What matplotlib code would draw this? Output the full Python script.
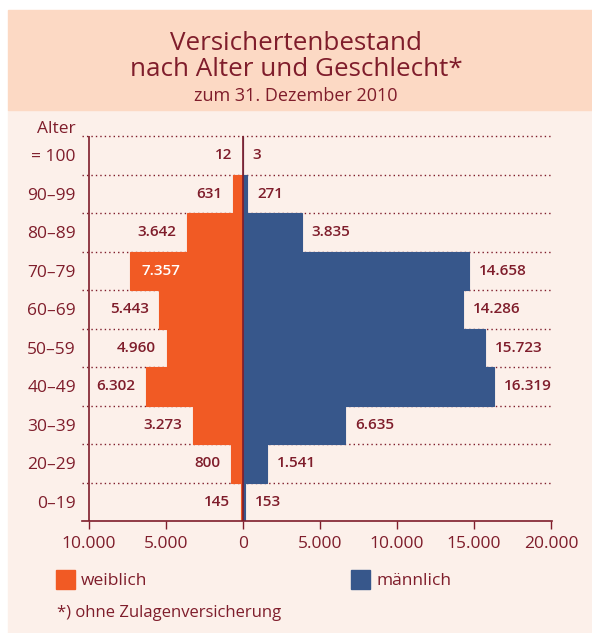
import matplotlib
matplotlib.use("Agg")
import matplotlib.pyplot as plt
from matplotlib.patches import Rectangle

plt.rcParams["font.family"] = ["Open Sans", "DejaVu Sans"]

# Data
age_groups = ["0–19", "20–29", "30–39", "40–49", "50–59",
              "60–69", "70–79", "80–89", "90–99", "= 100"]
female = [145, 800, 3273, 6302, 4960, 5443, 7357, 3642, 631, 12]
male = [153, 1541, 6635, 16319, 15723, 14286, 14658, 3835, 271, 3]
x_ticks = [-10000, -5000, 0, 5000, 10000, 15000, 20000]
x_tick_labels = ["10.000", "5.000", "0", "5.000", "10.000", "15.000", "20.000"]

title_lines = ["Versichertenbestand", "nach Alter und Geschlecht*"]
subtitle = "zum 31. Dezember 2010"
footnote = "*) ohne Zulagenversicherung"

# Colours
ORANGE = "#f15a24"
BLUE = "#37578b"
DARKRED = "#7f1d2b"
HEADER_BG = "#fcd9c4"
BODY_BG = "#fcf0ea"

W, H = 592, 633
fig = plt.figure(figsize=(W / 100, H / 100), dpi=100, facecolor="white")


def fx(px):
    return px / W


def fy(py):
    return 1 - py / H


# background panels
fig.patches.append(Rectangle((fx(8), fy(633)), fx(592 - 8), (633 - 110) / H,
                             transform=fig.transFigure, color=BODY_BG, zorder=-10))
fig.patches.append(Rectangle((fx(8), fy(110)), fx(592 - 8), 100 / H,
                             transform=fig.transFigure, color=HEADER_BG, zorder=-10))

# title
fig.text(0.5, fy(43), title_lines[0], ha="center", va="center", fontsize=18.7, color=DARKRED)
fig.text(0.5, fy(69), title_lines[1], ha="center", va="center", fontsize=18.7, color=DARKRED)
fig.text(0.5, fy(96), subtitle, ha="center", va="center", fontsize=13, color=DARKRED)

# axes: x from 82px to 552px, y from 136px to 521px
x_left, x_right = 82, 552
px_per_unit = (243 - 89) / 10000
xmin = -(243 - x_left) / px_per_unit
xmax = (x_right - 243) / px_per_unit
ax = fig.add_axes([fx(x_left), fy(521), fx(x_right - x_left), (521 - 136) / H])
ax.set_facecolor("none")
ax.set_xlim(xmin, xmax)
ax.set_ylim(-0.5, len(age_groups) - 0.5)

rows = list(range(len(age_groups)))

# dotted separators
for i in range(len(age_groups)):
    ax.plot([xmin, xmax], [i + 0.5, i + 0.5], color=DARKRED, lw=1.0,
            linestyle=(0, (1.0, 2.2)), zorder=1, clip_on=False)

ax.barh(rows, [-v for v in female], height=1.0, color=ORANGE,
        edgecolor=ORANGE, linewidth=0.8, zorder=2)
ax.barh(rows, male, height=1.0, color=BLUE,
        edgecolor=BLUE, linewidth=0.8, zorder=2)

ax.axvline(0, color=DARKRED, lw=1.2, zorder=3)
ax.axvline(-10000, color=DARKRED, lw=1.2, zorder=3)

# value labels
for i, v in enumerate(female):
    if v > 7000:
        ax.annotate(f"{v:,}".replace(",", "."), (-v, i), xytext=(8.5, 0),
                    textcoords="offset points", ha="left", va="center",
                    fontsize=11, fontweight="semibold", color="white", zorder=4)
    else:
        ax.annotate(f"{v:,}".replace(",", "."), (-v, i), xytext=(-7.5, 0),
                    textcoords="offset points", ha="right", va="center",
                    fontsize=11, fontweight="semibold", color=DARKRED, zorder=4)
for i, v in enumerate(male):
    ax.annotate(f"{v:,}".replace(",", "."), (v, i), xytext=(7, 0),
                textcoords="offset points", ha="left", va="center",
                fontsize=11, fontweight="semibold", color=DARKRED, zorder=4)

# axes styling
for s in ["top", "right", "left"]:
    ax.spines[s].set_visible(False)
ax.spines["bottom"].set_color(DARKRED)
ax.spines["bottom"].set_linewidth(1.2)
ax.spines["bottom"].set_zorder(5)

ax.set_xticks(x_ticks)
ax.set_xticklabels(x_tick_labels)
ax.tick_params(axis="x", direction="out", length=6, width=1.0, color=DARKRED,
               labelcolor=DARKRED, labelsize=12.5, pad=5)
ax.set_yticks(rows)
ax.set_yticklabels(age_groups)
ax.tick_params(axis="y", length=0, labelcolor=DARKRED, labelsize=12.5, pad=4.5)

fig.text(fx(76), fy(129), "Alter", ha="right", va="center", fontsize=12.5, color=DARKRED)

# legend
fig.patches.append(Rectangle((fx(56), fy(589)), fx(19), 19 / H,
                             transform=fig.transFigure, color=ORANGE, zorder=2))
fig.text(fx(81), fy(581), "weiblich", ha="left", va="center", fontsize=12.5, color=DARKRED)
fig.patches.append(Rectangle((fx(351), fy(589)), fx(19), 19 / H,
                             transform=fig.transFigure, color=BLUE, zorder=2))
fig.text(fx(376), fy(581), "männlich", ha="left", va="center", fontsize=12.5, color=DARKRED)

fig.text(fx(57), fy(613), footnote, ha="left", va="center", fontsize=12, color=DARKRED)

fig.savefig("out.png", dpi=100, facecolor="white")
